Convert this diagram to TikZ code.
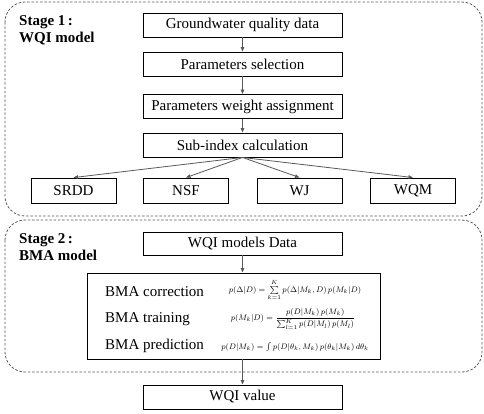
\documentclass[tikz,border=0pt]{standalone}
\usepackage{amsmath}
\usepackage{fontspec}
\setmainfont{Liberation Serif}
\usetikzlibrary{arrows.meta}
\begin{document}
\begin{tikzpicture}[x=1pt,y=1pt,
  box/.style={draw=black, line width=0.9pt, minimum width=199pt, minimum height=24pt, inner sep=0pt, font=\fontsize{15}{17}\selectfont},
  small/.style={box, minimum width=85pt, minimum height=25pt},
  stage/.style={draw=black!65, dashed, dash pattern=on 2.5pt off 1.8pt, line width=0.8pt, rounded corners=20pt},
  arr/.style={draw=black!65, line width=0.8pt, -{Triangle[length=4.5pt,width=3.5pt]}},
  lbl/.style={anchor=north west, align=left, inner sep=0pt, font=\fontsize{15}{17}\selectfont\bfseries},
  frm/.style={inner sep=0pt, font=\fontsize{8}{9}\selectfont},
  ftxt/.style={anchor=west, inner sep=0pt, font=\fontsize{15}{17}\selectfont}]
\useasboundingbox (0,0) rectangle (484,-413);
\draw[stage] (5,-2) rectangle (482,-216);
\draw[stage] (5,-220) rectangle (482,-372);
\node[lbl] (s1) at (19,-15) {Stage 1\,:\\WQI model};
\node[lbl] (s2) at (19,-233) {Stage 2\,:\\BMA model};
\node[box] (gw) at (242.5,-25) {Groundwater quality data};
\node[box] (ps) at (242.5,-64) {Parameters selection};
\node[box] (pw) at (242.5,-106.5) {Parameters weight assignment};
\node[box] (si) at (242.5,-145) {Sub-index calculation};
\node[small] (srdd) at (73.5,-190.5) {SRDD};
\node[small] (nsf) at (186,-190.5) {NSF};
\node[small] (wj) at (299.5,-190.5) {WJ};
\node[small] (wqm) at (413,-190.5) {WQM};
\draw[arr] (gw) -- (ps);
\draw[arr] (ps) -- (pw);
\draw[arr] (pw) -- (si);
\foreach \t in {srdd,nsf,wj,wqm} \draw[arr] (si.south) -- (\t.north);
\node[box, minimum height=23pt] (md) at (242.5,-243.5) {WQI models Data};
\node[box, minimum width=293pt, minimum height=86pt] (bma) at (233.5,-316) {};
\node[box] (wv) at (242.5,-397) {WQI value};
\draw[arr] (md) -- (bma.north -| md.south);
\draw[arr] (bma.south -| wv.north) -- (wv.north);
\node[ftxt] (t1) at (105,-292) {BMA correction};
\node[ftxt] (t2) at (105,-319) {BMA training};
\node[ftxt] (t3) at (105,-346) {BMA prediction};
\node[frm] (f1) at (295,-290) {$p(\Delta|D)=\sum\limits_{k=1}^{K}p(\Delta|M_k,D)\,p(M_k|D)$};
\node[frm] (f2) at (293,-319) {$p(M_k|D)=\dfrac{p(D|M_k)\,p(M_k)}{\sum_{l=1}^{K}p(D|M_l)\,p(M_l)}$};
\node[frm] (f3) at (295,-347) {$p(D|M_k)=\int p(D|\theta_k,M_k)\,p(\theta_k|M_k)\,d\theta_k$};
\end{tikzpicture}
\end{document}
